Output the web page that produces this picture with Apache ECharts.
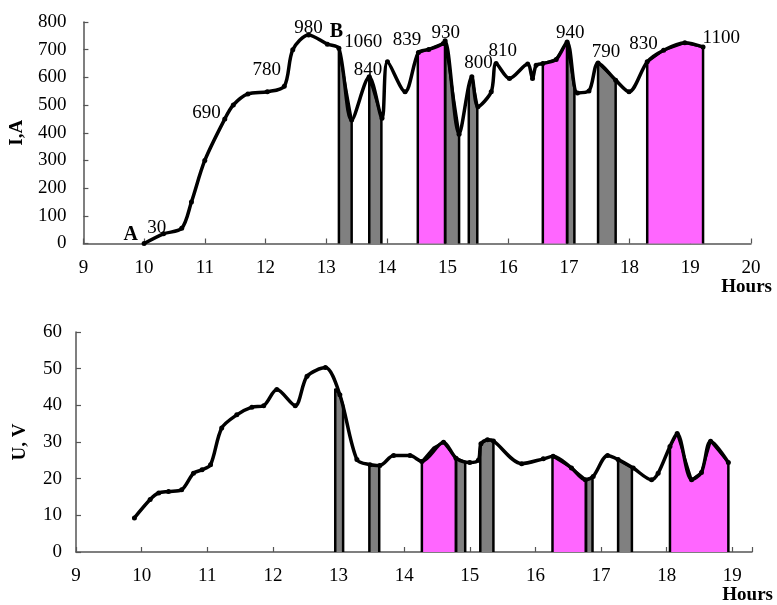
<!DOCTYPE html>
<html><head><meta charset="utf-8">
<script src="https://cdn.jsdelivr.net/npm/echarts@6/dist/echarts.min.js"></script>
<style>html,body{margin:0;padding:0;background:#fff}#c{width:777px;height:605px}</style>
</head><body><div id="c"></div>
<script>
// ---- Top chart: current I, A vs hours ----
const currentCurve = [
  [10.00, 0], [10.32, 35], [10.62, 55], [10.78, 150], [11.00, 300], [11.33, 450],
  [11.47, 500], [11.71, 540], [12.03, 548], [12.31, 568], [12.45, 700], [12.71, 753],
  [13.02, 720], [13.21, 705], [13.42, 446], [13.71, 602], [13.92, 452], [14.01, 656],
  [14.30, 548], [14.52, 690], [14.69, 701], [14.93, 722], [14.96, 732], [15.19, 395],
  [15.40, 602], [15.50, 494], [15.72, 548], [15.80, 650], [16.02, 596], [16.32, 648],
  [16.40, 596], [16.46, 644], [16.57, 650], [16.79, 665], [16.97, 728], [17.14, 544],
  [17.33, 551], [17.48, 652], [17.77, 590], [17.99, 548], [18.29, 656], [18.56, 698],
  [18.91, 725], [19.21, 710]
];
const currentGray = [
  [[13.21, 705], [13.42, 446]],
  [[13.71, 602], [13.91, 456]],
  [[14.96, 732], [15.19, 398]],
  [[15.35, 560], [15.40, 602], [15.49, 500]],
  [[16.97, 728], [17.09, 560]],
  [[17.48, 652], [17.77, 590]]
];
const currentPink = [
  [[14.51, 688], [14.69, 701], [14.93, 722], [14.96, 732]],
  [[16.57, 650], [16.79, 665], [16.97, 728]],
  [[18.29, 656], [18.56, 698], [18.91, 725], [19.21, 710]]
];
const currentNotes = [
  [9.78, 31, 'A'], [10.21, 56, '30'], [11.03, 471, '690'], [12.02, 626, '780'],
  [12.71, 778, '980'], [13.17, 763, 'B'], [13.61, 727, '1060'], [13.69, 626, '840'],
  [14.33, 734, '839'], [14.97, 760, '930'], [15.51, 651, '800'], [15.91, 695, '810'],
  [17.02, 760, '940'], [17.61, 691, '790'], [18.23, 720, '830'], [19.51, 742, '1100']
];

// ---- Bottom chart: voltage U, V vs hours ----
const voltageCurve = [
  [9.89, 9.3], [10.13, 14.3], [10.26, 16.1], [10.41, 16.5], [10.61, 17.0], [10.79, 21.5],
  [10.92, 22.4], [11.05, 23.8], [11.22, 33.8], [11.45, 37.4], [11.68, 39.5], [11.86, 39.9],
  [12.06, 44.3], [12.34, 39.9], [12.52, 47.9], [12.80, 50.3], [13.02, 42.9], [13.28, 25.2],
  [13.48, 23.8], [13.63, 23.6], [13.84, 26.3], [14.09, 26.3], [14.27, 24.7], [14.60, 29.9],
  [14.79, 25.6], [15.00, 24.4], [15.13, 25.0], [15.17, 29.5], [15.27, 30.6], [15.36, 30.3],
  [15.79, 24.1], [16.12, 25.4], [16.27, 26.1], [16.55, 22.9], [16.76, 19.7], [16.88, 20.6],
  [17.10, 26.3], [17.26, 25.2], [17.49, 22.9], [17.77, 19.7], [17.87, 21.5], [18.05, 28.8],
  [18.16, 32.3], [18.38, 19.7], [18.53, 21.7], [18.67, 30.2], [18.94, 24.4]
];
const voltageGray = [
  [[12.95, 44.5], [13.02, 42.9], [13.07, 40.0]],
  [[13.47, 23.8], [13.62, 23.6]],
  [[14.79, 25.6], [14.93, 24.6]],
  [[15.16, 29.5], [15.27, 30.6], [15.36, 30.3]],
  [[16.77, 19.7], [16.87, 20.5]],
  [[17.26, 25.2], [17.47, 23.0]]
];
const voltagePink = [
  [[14.27, 24.7], [14.45, 28.5], [14.60, 29.9], [14.79, 25.6]],
  [[16.26, 26.1], [16.55, 22.9], [16.77, 19.7]],
  [[18.05, 28.8], [18.16, 32.3], [18.38, 19.7], [18.53, 21.7], [18.67, 30.2], [18.94, 24.4]]
];

const FONT = 'Liberation Serif';
const AXIS_COLOR = '#555';
const GRAY = '#808080';
const PINK = '#FF66FF';

function region(top, color, idx) {
  const d = [[top[0][0], 0]].concat(top, [[top[top.length - 1][0], 0]]);
  return {
    type: 'line', xAxisIndex: idx, yAxisIndex: idx, data: d, symbol: 'none',
    lineStyle: { color: '#000', width: 2.5 }, areaStyle: { color: color, opacity: 1 },
    z: 2, silent: true
  };
}
function curve(data, idx) {
  return {
    type: 'line', xAxisIndex: idx, yAxisIndex: idx, data: data, smooth: 0.3,
    symbol: 'circle', symbolSize: 5, itemStyle: { color: '#000' },
    lineStyle: { color: '#000', width: 3.5 }, z: 3, silent: true
  };
}
function xAxisCfg(idx, min, max) {
  return {
    type: 'value', gridIndex: idx, min: min, max: max, interval: 1,
    splitLine: { show: false },
    axisLine: { lineStyle: { color: AXIS_COLOR, width: 1.5 } },
    axisTick: { inside: true, length: 5, lineStyle: { color: AXIS_COLOR, width: 1.2 } },
    axisLabel: { color: '#000', fontFamily: FONT, fontSize: 19, margin: 15,
      formatter: v => (Math.abs(v - Math.round(v)) < 1e-6 ? String(Math.round(v)) : '') },
    name: 'Hours', nameLocation: 'end', nameGap: 21,
    nameTextStyle: { color: '#000', fontFamily: FONT, fontWeight: 'bold', fontSize: 19,
      align: 'right', verticalAlign: 'top', padding: [34, 0, 0, 0] }
  };
}
function yAxisCfg(idx, max, interval, name) {
  return {
    type: 'value', gridIndex: idx, min: 0, max: max, interval: interval,
    splitLine: { show: false },
    axisLine: { show: true, lineStyle: { color: AXIS_COLOR, width: 1.5 } },
    axisTick: { show: true, inside: true, length: 5, lineStyle: { color: AXIS_COLOR, width: 1.2 } },
    axisLabel: { color: '#000', fontFamily: FONT, fontSize: 19, margin: idx === 0 ? 17 : 14 },
    name: name, nameLocation: 'middle', nameGap: idx === 0 ? 50 : 46,
    nameTextStyle: { color: '#000', fontFamily: FONT, fontWeight: 'bold', fontSize: 19 }
  };
}

const series = [];
currentGray.forEach(r => series.push(region(r, GRAY, 0)));
currentPink.forEach(r => series.push(region(r, PINK, 0)));
series.push(curve(currentCurve, 0));
voltageGray.forEach(r => series.push(region(r, GRAY, 1)));
voltagePink.forEach(r => series.push(region(r, PINK, 1)));
series.push(curve(voltageCurve, 1));
series.push({
  type: 'scatter', xAxisIndex: 0, yAxisIndex: 0, symbolSize: 1, z: 5, silent: true,
  itemStyle: { color: 'rgba(0,0,0,0)' },
  data: currentNotes.map(n => ({
    value: [n[0], n[1]], name: n[2],
    label: /[A-Z]/.test(n[2]) ? { fontWeight: 'bold', fontSize: 20 } : {}
  })),
  label: { show: true, position: 'inside', formatter: p => p.name, color: '#000',
    fontFamily: FONT, fontSize: 19, opacity: 1 }
});

const chart = echarts.init(document.getElementById('c'), null, { renderer: 'canvas' });
chart.setOption({
  animation: false,
  backgroundColor: '#fff',
  grid: [
    { left: 79, right: 26, top: 22, bottom: 361.5 },
    { left: 76, right: 25, top: 332, bottom: 52.7 }
  ],
  xAxis: [xAxisCfg(0, 9, 20), xAxisCfg(1, 9, 19.3)],
  yAxis: [yAxisCfg(0, 800, 100, 'I,A'), yAxisCfg(1, 60, 10, 'U, V')],
  series: series
});
</script></body></html>
